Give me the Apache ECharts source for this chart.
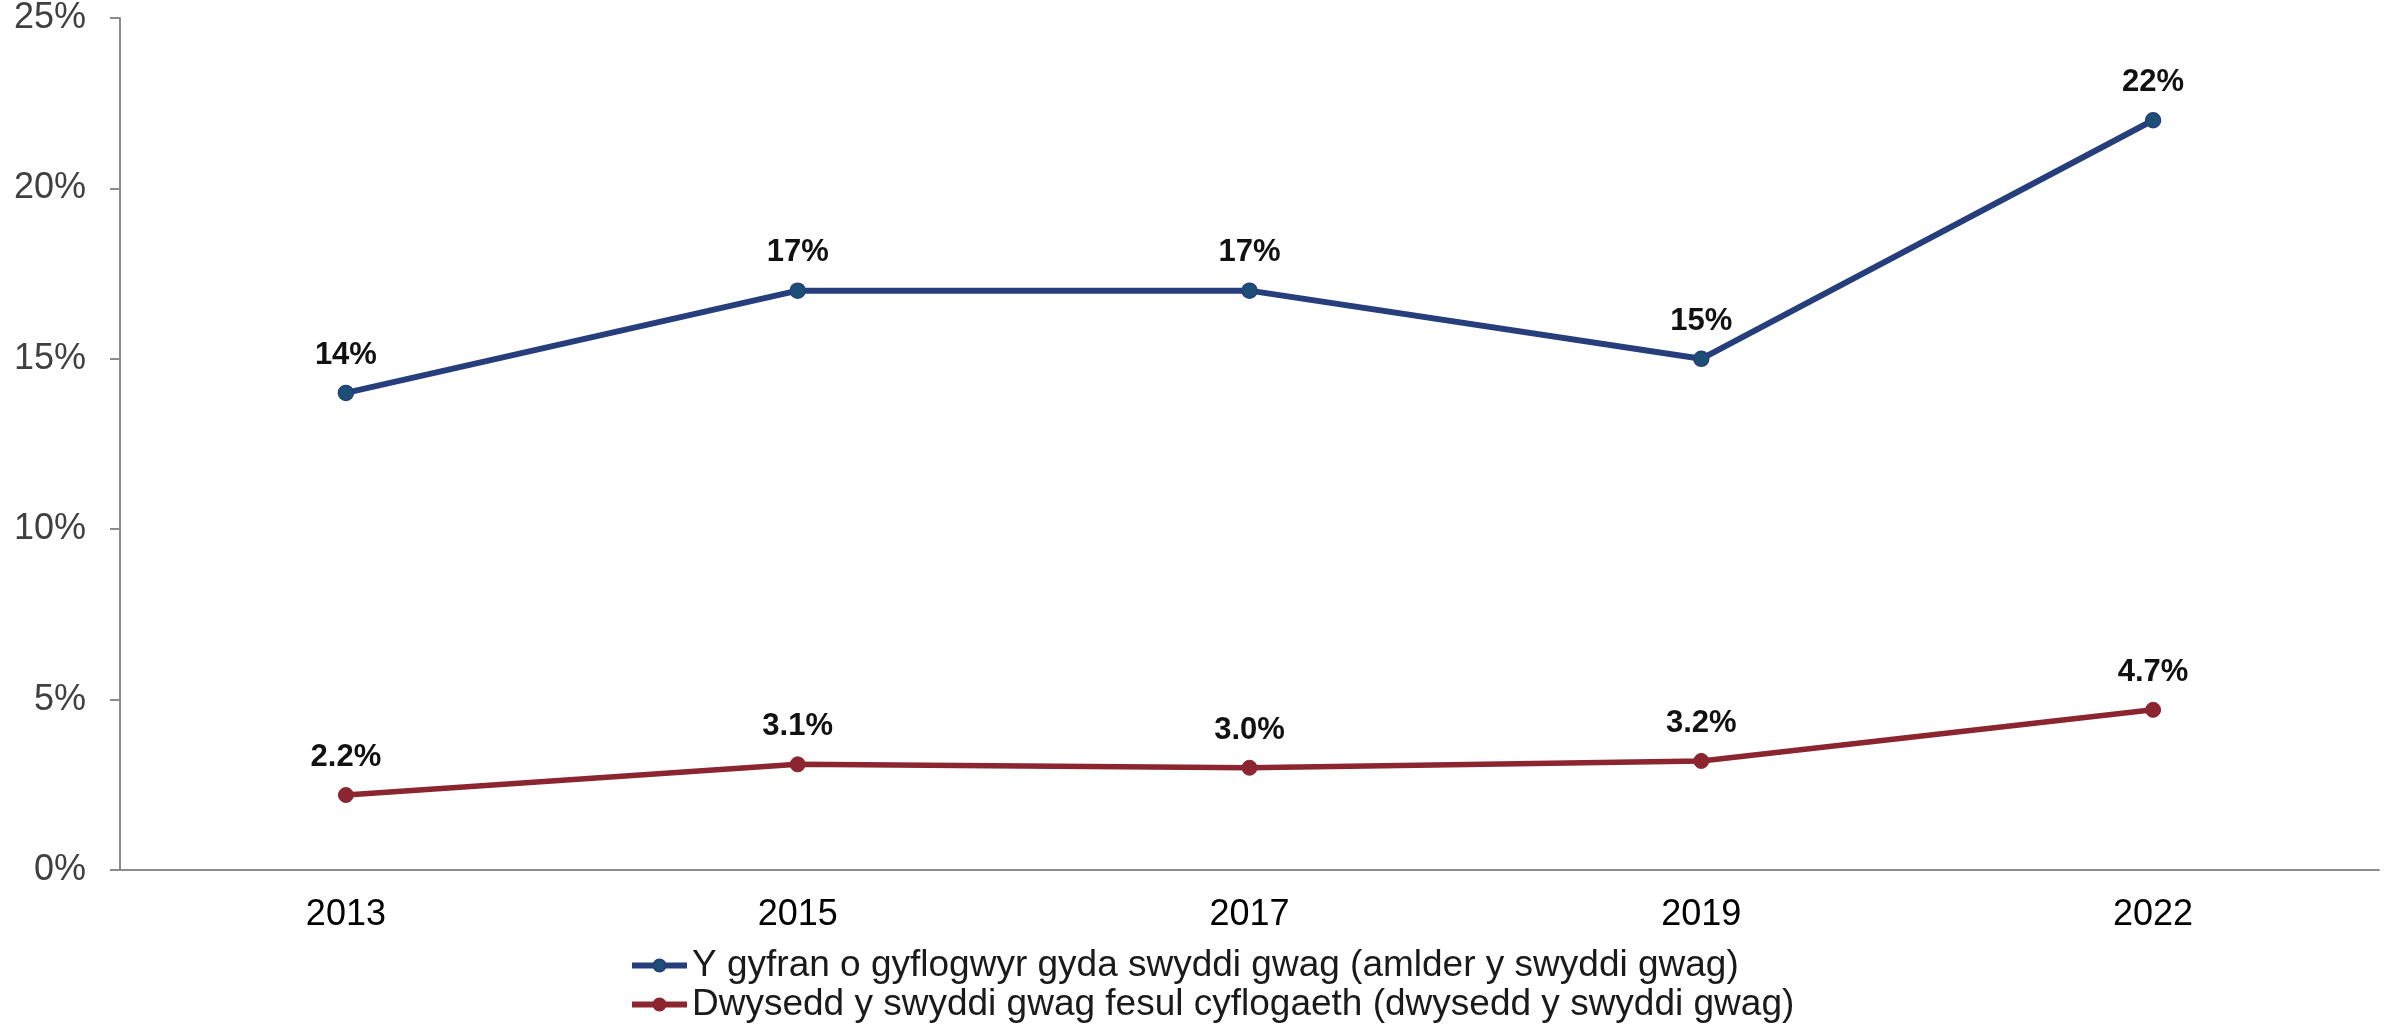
<!DOCTYPE html>
<html>
<head>
<meta charset="utf-8">
<script src="https://cdn.jsdelivr.net/npm/echarts@6/dist/echarts.min.js"></script>
<style>
  html, body { margin: 0; padding: 0; background: #fff; }
  #chart-container { width: 2384px; height: 1024px; }
</style>
</head>
<body>
<div id="chart-container"></div>
<script>
var dom = document.getElementById("chart-container");
var myChart = echarts.init(dom, null, { renderer: "canvas" });

// data
const years = ["2013", "2015", "2017", "2019", "2022"];
const densityLabel = "Y gyfran o gyflogwyr gyda swyddi gwag (amlder y swyddi gwag)";
const densityValues = [14, 17, 17, 15, 22];
const perJobLabel = "Dwysedd y swyddi gwag fesul cyflogaeth (dwysedd y swyddi gwag)";
const perJobValues = [2.2, 3.1, 3.0, 3.2, 4.7];

const FONT = "'Liberation Sans', Arial, sans-serif";

var option = {
  animation: false,
  backgroundColor: "#fff",
  grid: { left: 120, right: 5, top: 17, bottom: 154, containLabel: false },
  legend: {
    orient: "vertical",
    left: 629,
    top: 947,
    padding: 0,
    itemWidth: 55,
    itemHeight: 15,
    itemGap: 2,
    lineStyle: { width: 6 },
    textStyle: { fontFamily: FONT, fontSize: 37, lineHeight: 36, color: "#1a1a1a" },
    data: [densityLabel, perJobLabel],
  },
  xAxis: {
    type: "category",
    data: years,
    boundaryGap: true,
    axisLine: { lineStyle: { color: "#8c8c8c", width: 2 } },
    axisTick: { show: false },
    axisLabel: { fontFamily: FONT, fontSize: 36, color: "#000", margin: 27 },
  },
  yAxis: {
    type: "value",
    min: 0,
    max: 25,
    interval: 5,
    splitLine: { show: false },
    axisLine: { show: true, lineStyle: { color: "#8c8c8c", width: 2 } },
    axisTick: { show: true, length: 10, lineStyle: { color: "#8c8c8c", width: 2 } },
    axisLabel: {
      fontFamily: FONT,
      fontSize: 36,
      color: "#404040",
      margin: 34,
      formatter: "{value}%",
    },
  },
  series: [
    {
      name: densityLabel,
      type: "line",
      data: densityValues,
      symbol: "circle",
      symbolSize: 15,
      lineStyle: { color: "#263f7c", width: 6 },
      itemStyle: { color: "#1b4f76", borderColor: "#263f7c", borderWidth: 1.5 },
      label: {
        show: true,
        position: "top",
        distance: 14,
        fontFamily: FONT,
        fontSize: 31,
        fontWeight: "bold",
        color: "#111",
        formatter: (p) => p.value.toFixed(0) + "%",
      },
    },
    {
      name: perJobLabel,
      type: "line",
      data: perJobValues,
      symbol: "circle",
      symbolSize: 15,
      lineStyle: { color: "#8b2530", width: 5.5 },
      itemStyle: { color: "#8b2530", borderColor: "#8b2530", borderWidth: 1 },
      label: {
        show: true,
        position: "top",
        distance: 14,
        fontFamily: FONT,
        fontSize: 31,
        fontWeight: "bold",
        color: "#111",
        formatter: (p) => p.value.toFixed(1) + "%",
      },
    },
  ],
};

myChart.setOption(option);
window.addEventListener("resize", myChart.resize);
</script>
</body>
</html>
